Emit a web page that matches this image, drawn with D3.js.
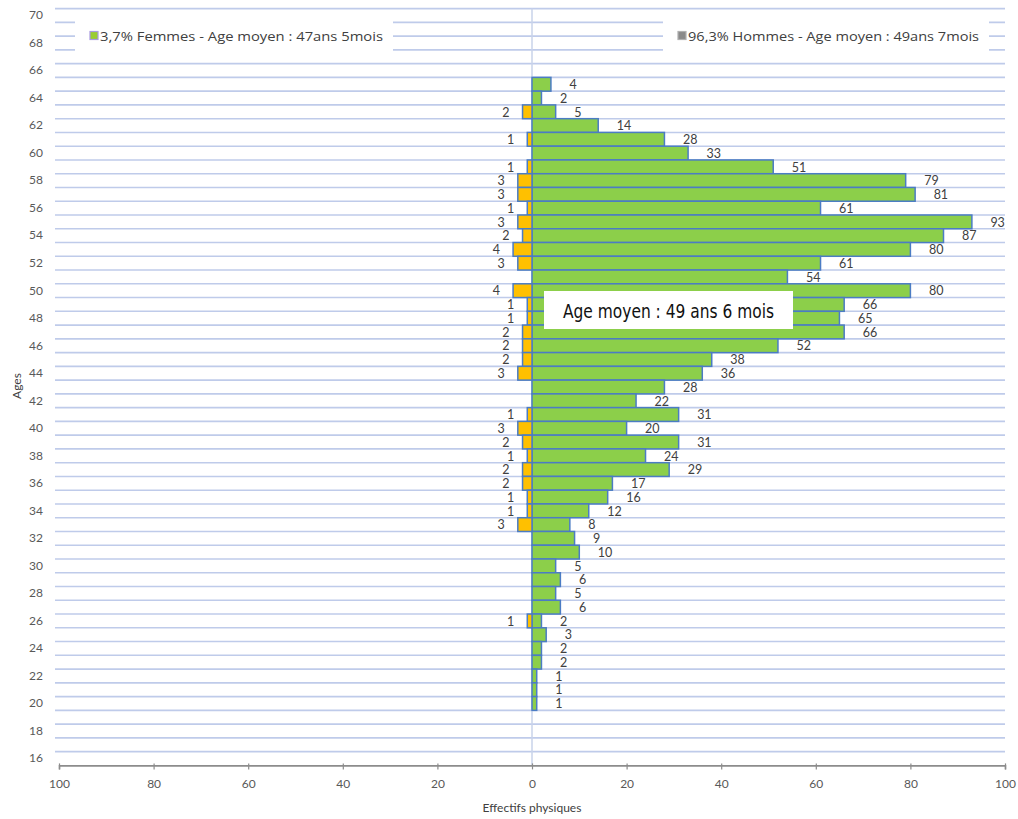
<!DOCTYPE html>
<html>
<head>
<meta charset="utf-8">
<script src="https://cdn.jsdelivr.net/npm/d3@7"></script>
<style>
  body { margin: 0; background: #ffffff; }
  svg text { font-family: Lato, "Open Sans", "DejaVu Sans", sans-serif; }
</style>
</head>
<body>
<svg id="chart" width="1018" height="819"></svg>
<script>
// Pyramide des âges : effectifs physiques par âge
const ages    = [65, 64, 63, 62, 61, 60, 59, 58, 57, 56, 55, 54, 53, 52, 51, 50, 49, 48, 47, 46, 45, 44, 43,
                 42, 41, 40, 39, 38, 37, 36, 35, 34, 33, 32, 31, 30, 29, 28, 27, 26, 25, 24, 23, 22, 21, 20];
const hommes  = [4, 2, 5, 14, 28, 33, 51, 79, 81, 61, 93, 87, 80, 61, 54, 80, 66, 65, 66, 52, 38, 36, 28,
                 22, 31, 20, 31, 24, 29, 17, 16, 12, 8, 9, 10, 5, 6, 5, 6, 2, 3, 2, 2, 1, 1, 1];
const femmes  = [0, 0, 2, 0, 1, 0, 1, 3, 3, 1, 3, 2, 4, 3, 0, 4, 1, 1, 2, 2, 2, 3, 0,
                 0, 1, 3, 2, 1, 2, 2, 1, 1, 3, 0, 0, 0, 0, 0, 0, 1, 0, 0, 0, 0, 0, 0];
const ageCategories = d3.range(70, 15, -1);
const ageTicks      = d3.range(16, 71, 2);
const effectifTicks = [-100, -80, -60, -40, -20, 0, 20, 40, 60, 80, 100];
const legendFemmes  = "3,7% Femmes - Age moyen : 47ans 5mois";
const legendHommes  = "96,3% Hommes - Age moyen : 49ans 7mois";
const noteMoyenne   = "Age moyen : 49 ans 6 mois";
const axisTitleX    = "Effectifs physiques";
const axisTitleY    = "Ages";

const rows = ages.map((a, i) => ({ age: a, h: hommes[i], f: femmes[i] }));

const svg = d3.select("#chart");

const x = d3.scaleLinear().domain([-100, 100]).range([59, 1005]);
const y = d3.scaleBand().domain(ageCategories).range([8.6, 765.4]).padding(0);

// horizontal gridlines between age categories
svg.append("g")
  .selectAll("line")
  .data(ageCategories)
  .join("line")
  .attr("x1", 55).attr("x2", 1005)
  .attr("y1", d => y(d)).attr("y2", d => y(d))
  .attr("stroke", "#bfcbea").attr("stroke-width", 1.6);

// vertical category axis at zero
svg.append("line")
  .attr("x1", x(0)).attr("x2", x(0))
  .attr("y1", y.range()[0]).attr("y2", y.range()[1])
  .attr("stroke", "#c9d3ea").attr("stroke-width", 1.5);

// legend boxes
function legend(x0, w, text, textW, fill, stroke) {
  const g = svg.append("g");
  g.append("rect").attr("x", x0).attr("y", 21).attr("width", w).attr("height", 30).attr("fill", "#ffffff");
  g.append("rect").attr("x", x0 + 15).attr("y", 31.5).attr("width", 8).attr("height", 8)
    .attr("fill", fill).attr("stroke", stroke).attr("stroke-width", 1.2);
  g.append("text").attr("x", x0 + 25).attr("y", 36).attr("dy", "0.35em")
    .attr("font-size", 13.5).attr("fill", "#404040")
    .attr("textLength", textW).attr("lengthAdjust", "spacingAndGlyphs")
    .style("font-family", "'Open Sans', Lato, sans-serif")
    .text(text);
}
legend(75, 318, legendFemmes, 283, "#9acd32", "#a99be0");
legend(663, 326, legendHommes, 291, "#8a8a8a", "#b0b0b0");

// bars
const bars = svg.append("g");
bars.selectAll("rect.h")
  .data(rows)
  .join("rect")
  .attr("class", "h")
  .attr("x", x(0))
  .attr("y", d => y(d.age))
  .attr("width", d => x(d.h) - x(0))
  .attr("height", y.bandwidth())
  .attr("fill", "#8ccf4a")
  .attr("stroke", "#4b7cc4").attr("stroke-width", 1.5);

bars.selectAll("rect.f")
  .data(rows.filter(d => d.f > 0))
  .join("rect")
  .attr("class", "f")
  .attr("x", d => x(-d.f))
  .attr("y", d => y(d.age))
  .attr("width", d => x(0) - x(-d.f))
  .attr("height", y.bandwidth())
  .attr("fill", "#ffc000")
  .attr("stroke", "#4b7cc4").attr("stroke-width", 1.5);

// value labels
const labels = svg.append("g").attr("font-size", 12.5).attr("fill", "#404040");
labels.selectAll("text.h")
  .data(rows)
  .join("text")
  .attr("class", "h")
  .attr("x", d => x(d.h) + 18.5)
  .attr("y", d => y(d.age) + y.bandwidth() / 2)
  .attr("dy", "0.38em")
  .text(d => d.h);

labels.selectAll("text.f")
  .data(rows.filter(d => d.f > 0))
  .join("text")
  .attr("class", "f")
  .attr("x", d => x(-d.f) - 13)
  .attr("y", d => y(d.age) + y.bandwidth() / 2)
  .attr("dy", "0.38em")
  .attr("text-anchor", "end")
  .text(d => d.f);

// x axis
const xAxis = svg.append("g")
  .attr("transform", `translate(0,${y.range()[1]})`)
  .call(d3.axisBottom(x).tickValues(effectifTicks).tickFormat(d => Math.abs(d)).tickSize(4).tickPadding(10));
xAxis.select(".domain").attr("stroke", "#8c8c8c").attr("stroke-width", 1.6);
xAxis.selectAll(".tick line").attr("y1", -2).attr("stroke", "#8c8c8c").attr("stroke-width", 1.2);
xAxis.selectAll(".tick text").attr("font-size", 12).attr("fill", "#595959")
  .style("font-family", "Lato, 'Open Sans', sans-serif");

// y axis (age labels every two years)
const yAxis = svg.append("g")
  .attr("transform", "translate(45,0)")
  .call(d3.axisLeft(y).tickValues(ageTicks).tickSize(0).tickPadding(2));
yAxis.select(".domain").remove();
yAxis.selectAll(".tick text").attr("font-size", 12).attr("fill", "#595959")
  .style("font-family", "Lato, 'Open Sans', sans-serif");

// axis titles
svg.append("text")
  .attr("x", x(0)).attr("y", 808).attr("dy", "0.35em")
  .attr("text-anchor", "middle").attr("font-size", 12).attr("fill", "#404040")
  .text(axisTitleX);
svg.append("text")
  .attr("transform", "translate(17,386) rotate(-90)")
  .attr("dy", "0.35em")
  .attr("text-anchor", "middle").attr("font-size", 12).attr("fill", "#404040")
  .text(axisTitleY);

// mean age note
const note = svg.append("g");
note.append("rect").attr("x", 544).attr("y", 291).attr("width", 249).attr("height", 38).attr("fill", "#ffffff");
note.append("text")
  .attr("x", 668.5).attr("y", 318)
  .attr("text-anchor", "middle")
  .attr("font-size", 20)
  .attr("fill", "#111111")
  .attr("textLength", 211).attr("lengthAdjust", "spacingAndGlyphs")
  .style("font-family", "'DejaVu Sans Condensed', 'Liberation Sans Narrow', 'DejaVu Sans', sans-serif")
  .text(noteMoyenne);
</script>
</body>
</html>
